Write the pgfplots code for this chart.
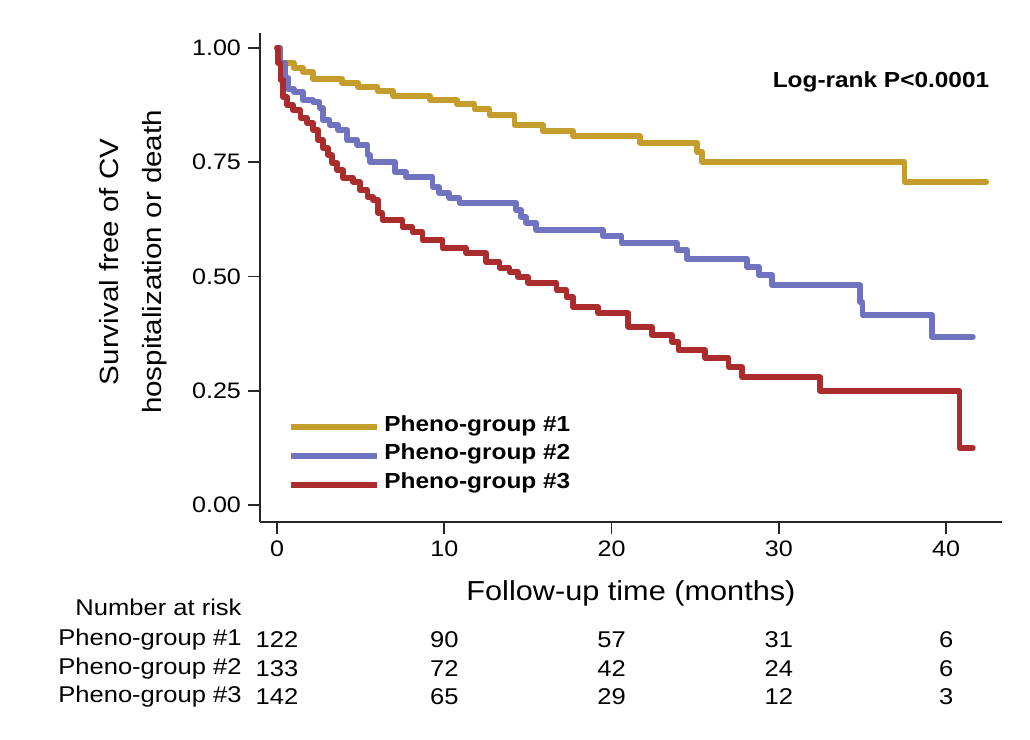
\documentclass[border=0pt]{standalone}
\usepackage{fontspec}
\setmainfont{Liberation Sans}[FakeStretch=1.12]
\usepackage{pgfplots}
\usepackage{pgfplotstable}
\pgfplotsset{compat=1.18}

\definecolor{pgold}{RGB}{197,157,45}
\definecolor{pblue}{RGB}{112,116,192}
\definecolor{pred}{RGB}{170,44,44}

% Kaplan-Meier steps (time in months, survival after the drop)
\pgfplotstableread{
t s
0 1.000
0.2 0.967
1.0 0.956
1.55 0.947
2.15 0.932
3.9 0.923
4.85 0.915
6.0 0.906
6.95 0.895
9.15 0.886
10.75 0.877
11.8 0.866
12.7 0.853
14.2 0.832
15.9 0.818
17.7 0.807
21.7 0.792
25.1 0.773
25.4 0.751
37.5 0.707
42.4 0.707
}\groupone

\pgfplotstableread{
t s
0 1.000
0.2 0.967
0.5 0.935
0.65 0.910
1.0 0.904
1.55 0.886
2.15 0.882
2.55 0.869
2.75 0.842
3.15 0.832
3.65 0.821
4.2 0.799
4.8 0.788
5.4 0.766
5.55 0.751
7.05 0.729
7.7 0.718
9.3 0.696
9.7 0.683
10.3 0.672
10.9 0.661
14.3 0.645
14.6 0.630
14.9 0.617
15.5 0.602
19.5 0.589
20.6 0.573
23.9 0.558
24.5 0.538
28.1 0.521
28.8 0.503
29.6 0.481
34.85 0.444
35.0 0.416
39.15 0.368
41.6 0.368
}\grouptwo

\pgfplotstableread{
t s
0 1.000
0.05 0.967
0.2 0.930
0.35 0.893
0.6 0.875
0.95 0.864
1.4 0.847
1.8 0.836
2.15 0.821
2.45 0.799
2.75 0.781
3.05 0.766
3.3 0.748
3.6 0.733
3.95 0.716
4.55 0.707
4.95 0.689
5.4 0.674
5.75 0.667
6.05 0.639
6.3 0.624
7.5 0.608
8.1 0.597
8.7 0.580
9.9 0.562
11.3 0.551
12.5 0.532
13.3 0.519
13.9 0.510
14.4 0.499
15.0 0.486
16.7 0.470
17.3 0.455
17.7 0.433
19.2 0.420
21.0 0.390
22.4 0.372
23.6 0.357
24.0 0.339
25.6 0.322
27.0 0.302
27.8 0.280
32.45 0.250
40.8 0.125
41.6 0.125
}\groupthree

\begin{document}
\begin{tikzpicture}
\path[use as bounding box] (0pt,0pt) rectangle (515pt,370pt);
\begin{axis}[
    at={(130pt,109pt)}, anchor=south west,
    scale only axis,
    width=371pt, height=244.5pt,
    xmin=-1.016, xmax=43.34,
    ymin=-0.0372, ymax=1.0328,
    axis x line=bottom, axis y line=left,
    axis line style={-, line width=0.8pt, black!85},
    tick align=outside,
    major tick length=6pt,
    tick style={line width=0.8pt, black!85},
    xtick={0,10,20,30,40},
    ytick={0,0.25,0.5,0.75,1},
    yticklabel style={/pgf/number format/.cd, fixed, fixed zerofill, precision=2},
    /pgf/number format/assume math mode=true,
    tick label style={font=\fontsize{11.2}{13}\selectfont},
    clip=false,
    xlabel={Follow-up time (months)},
    x label style={at={(axis cs:21.16,-0.193)}, anchor=center,
        font=\fontsize{13.7}{16}\selectfont},
    ylabel={Survival free of CV\\hospitalization or death},
    y label style={at={(axis cs:-8.6,0.532)}, anchor=center, rotate=0,
        align=center, font=\fontsize{13.2}{21.5}\selectfont},
    legend style={at={(axis cs:0.66,0.202)}, anchor=north west,
        draw=none, fill=none, inner sep=0pt, row sep=0pt, column sep=2pt,
        font=\bfseries\fontsize{10.9}{13}\selectfont,
        nodes={inner sep=0pt, text height=9pt, text depth=5.3pt}},
    legend cell align=left,
    legend image code/.code={\draw[#1, line width=3pt, line cap=butt] (0pt,0pt) -- (43pt,0pt);},
    every axis plot/.append style={line width=2.8pt, line cap=round, line join=round},
]
\addplot[const plot, pgold] table[x=t, y=s] {\groupone};
\addplot[const plot, pblue] table[x=t, y=s] {\grouptwo};
\addplot[const plot, pred] table[x=t, y=s] {\groupthree};
\legend{Pheno-group \#1, Pheno-group \#2, Pheno-group \#3}

\node[anchor=east, inner sep=0pt, font=\bfseries\fontsize{10.9}{13}\selectfont]
    at (axis cs:42.6,0.926) {Log-rank P<0.0001};

% number at risk table
\node[anchor=west, inner sep=0pt, font=\fontsize{11.4}{13}\selectfont] at (axis cs:-12.07,-0.225) {Number at risk};
\node[anchor=west, inner sep=0pt, font=\fontsize{11.4}{13}\selectfont] at (axis cs:-13.09,-0.295) {Pheno-group \#1};
\node[anchor=west, inner sep=0pt, font=\fontsize{11.4}{13}\selectfont] at (axis cs:-13.09,-0.357) {Pheno-group \#2};
\node[anchor=west, inner sep=0pt, font=\fontsize{11.4}{13}\selectfont] at (axis cs:-13.09,-0.420) {Pheno-group \#3};
\node[font=\fontsize{11.4}{13}\selectfont] at (axis cs:0,-0.295) {122};
\node[font=\fontsize{11.4}{13}\selectfont] at (axis cs:10,-0.295) {90};
\node[font=\fontsize{11.4}{13}\selectfont] at (axis cs:20,-0.295) {57};
\node[font=\fontsize{11.4}{13}\selectfont] at (axis cs:30,-0.295) {31};
\node[font=\fontsize{11.4}{13}\selectfont] at (axis cs:40,-0.295) {6};
\node[font=\fontsize{11.4}{13}\selectfont] at (axis cs:0,-0.357) {133};
\node[font=\fontsize{11.4}{13}\selectfont] at (axis cs:10,-0.357) {72};
\node[font=\fontsize{11.4}{13}\selectfont] at (axis cs:20,-0.357) {42};
\node[font=\fontsize{11.4}{13}\selectfont] at (axis cs:30,-0.357) {24};
\node[font=\fontsize{11.4}{13}\selectfont] at (axis cs:40,-0.357) {6};
\node[font=\fontsize{11.4}{13}\selectfont] at (axis cs:0,-0.420) {142};
\node[font=\fontsize{11.4}{13}\selectfont] at (axis cs:10,-0.420) {65};
\node[font=\fontsize{11.4}{13}\selectfont] at (axis cs:20,-0.420) {29};
\node[font=\fontsize{11.4}{13}\selectfont] at (axis cs:30,-0.420) {12};
\node[font=\fontsize{11.4}{13}\selectfont] at (axis cs:40,-0.420) {3};
\end{axis}
\end{tikzpicture}
\end{document}
